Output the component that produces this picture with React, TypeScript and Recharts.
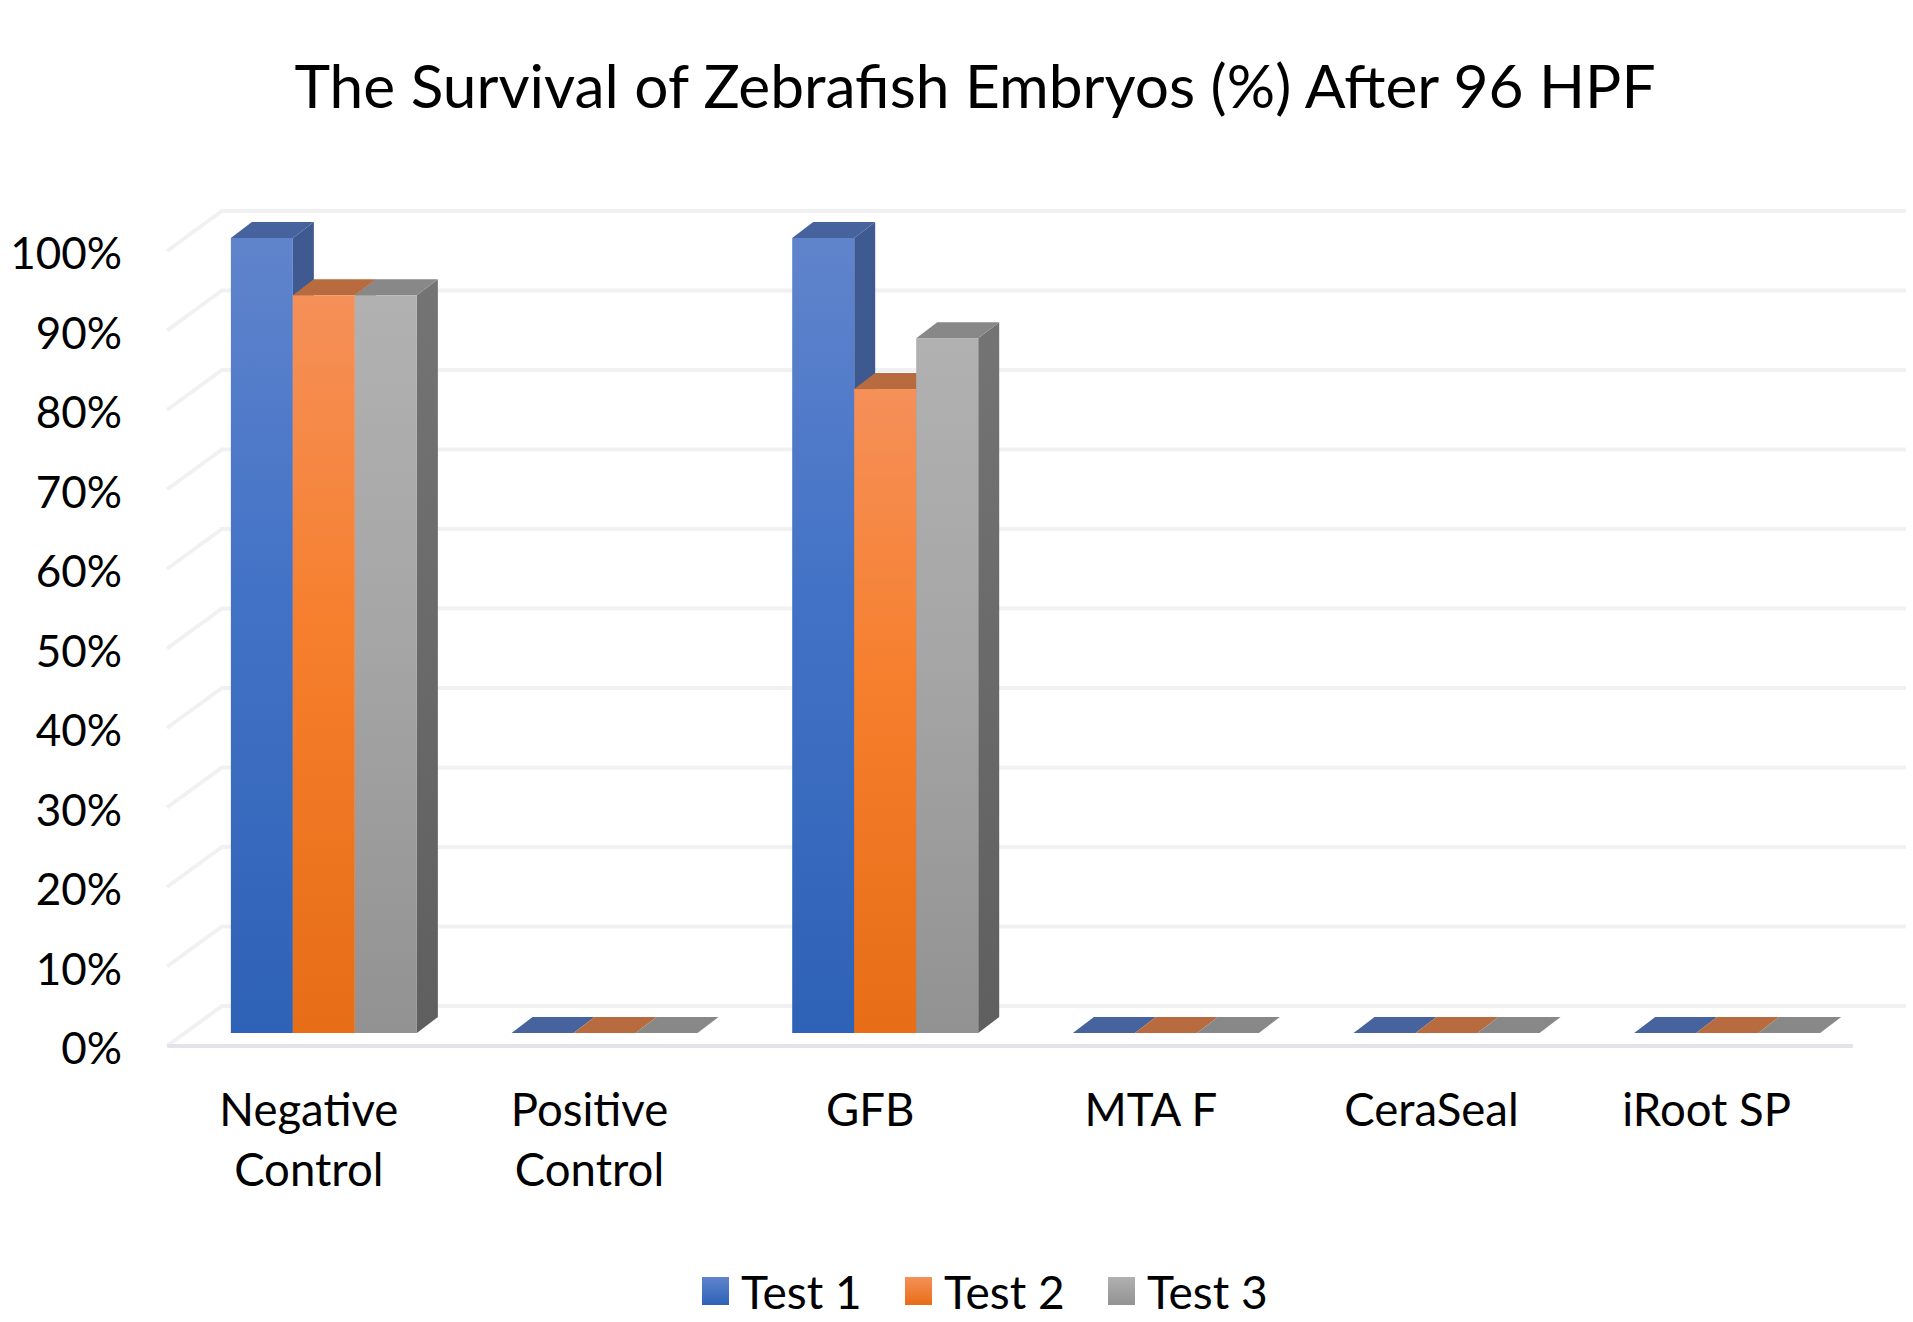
import { Bar, BarChart, CartesianGrid, Legend, XAxis, YAxis } from "recharts";

const categories = ["Negative Control", "Positive Control", "GFB", "MTA F", "CeraSeal", "iRoot SP"];
const test1 = [100, 0, 100, 0, 0, 0];
const test2 = [92.8, 0, 81, 0, 0, 0];
const test3 = [92.8, 0, 87.4, 0, 0, 0];
const seriesNames = ["Test 1", "Test 2", "Test 3"];
const yTicks = [0, 10, 20, 30, 40, 50, 60, 70, 80, 90, 100];

const data = categories.map((name, i) => ({
  name,
  t1: test1[i],
  t2: test2[i],
  t3: test3[i],
}));

const FONT = "Lato, sans-serif";
// colours per series: front top, front mid, front bottom, top face, side top, side bottom
const shades = [
  ["#6084cc", "#4272c6", "#2e62b7", "#47639d", "#3f5a90", "#34538c"],
  ["#f59059", "#f67f2d", "#e76d16", "#b86b3e", "#a85a2c", "#a0561f"],
  ["#b1b1b1", "#a6a6a6", "#929292", "#888888", "#747474", "#5f5f5f"],
];

// how far the floor/walls sit from the bar plane
const FRONT_DY = 13;
const BACK_DY = 27;
const FRONT_X = 167;
const BACK_X = 222;
const BACK_END = 1906;
const FLOOR_END = 1853;
const BASE_Y = 1033;
// bar extrusion
const DX = 21;
const DY = 16;

const box = (idx: number) => (props: any) => {
  const { x, y, width, height } = props;
  return (
    <g>
      <polygon
        points={`${x + width},${y} ${x + width + DX},${y - DY} ${x + width + DX},${y + height - DY} ${x + width},${y + height}`}
        fill={`url(#side${idx})`}
      />
      <polygon
        points={`${x},${y} ${x + DX},${y - DY} ${x + width + DX},${y - DY} ${x + width},${y}`}
        fill={shades[idx][3]}
      />
      <rect x={x} y={y} width={width} height={height} fill={`url(#front${idx})`} />
    </g>
  );
};

const wallLine = (props: any) => {
  const y = props.y1;
  return (
    <g key={props.key}>
      <polyline
        points={`${FRONT_X},${y + FRONT_DY} ${BACK_X},${y - BACK_DY} ${BACK_END},${y - BACK_DY}`}
        fill="none"
        stroke="#f1f1f3"
        strokeWidth={4}
      />
      {Math.abs(y - BASE_Y) < 1 ? (
        <line x1={FRONT_X} y1={y + FRONT_DY} x2={FLOOR_END} y2={y + FRONT_DY} stroke="#e3e4e9" strokeWidth={4} />
      ) : null}
    </g>
  );
};

const YTick = ({ x, y, payload }: any) => (
  <text x={x + 1} y={y + 31} textAnchor="end" fontFamily={FONT} fontSize={44} fill="#000">
    {payload.value}%
  </text>
);

const XTick = ({ x, payload }: any) => {
  const parts = payload.value.endsWith("Control") ? payload.value.split(" ") : [payload.value];
  // iRoot SP sits a little further left in the original
  const cx = x + (payload.value === "iRoot SP" ? -21 : -15.5);
  return (
    <text x={cx} y={1126} textAnchor="middle" fontFamily={FONT} fontSize={45.5} fill="#000">
      {parts.map((p: string, i: number) => (
        <tspan key={p} x={cx} dy={i === 0 ? 0 : 60}>
          {p}
        </tspan>
      ))}
    </text>
  );
};

const LegendRow = () => (
  <div style={{ height: 50, position: "relative", fontFamily: FONT, fontSize: 46, color: "#000" }}>
    {seriesNames.map((n, i) => (
      <div key={n} style={{ position: "absolute", left: i * 203, top: 0, display: "flex", alignItems: "center", height: 50, whiteSpace: "nowrap" }}>
        <span
          style={{
            width: 27,
            height: 28,
            marginRight: 12,
            background: `linear-gradient(${shades[i][0]}, ${shades[i][2]})`,
          }}
        />
        {n}
      </div>
    ))}
  </div>
);

export default function App() {
  return (
    <div style={{ position: "absolute", left: 0, top: 0, width: 1913, height: 1322, background: "#fff" }}>
      <BarChart
        width={1913}
        height={1322}
        data={data}
        margin={{ top: 238, right: 45, bottom: 0, left: 0 }}
        barCategoryGap="16.7%"
        barGap={0}
      >
        <defs>
          {shades.map((s, i) => (
            <g key={i}>
              <linearGradient id={`front${i}`} x1="0" y1="0" x2="0" y2="1">
                <stop offset="0%" stopColor={s[0]} />
                <stop offset="45%" stopColor={s[1]} />
                <stop offset="100%" stopColor={s[2]} />
              </linearGradient>
              <linearGradient id={`side${i}`} x1="0" y1="0" x2="0" y2="1">
                <stop offset="0%" stopColor={s[4]} />
                <stop offset="100%" stopColor={s[5]} />
              </linearGradient>
            </g>
          ))}
        </defs>
        <text x={975} y={108} textAnchor="middle" fontFamily={FONT} fontSize={60.4} fill="#000">
          The Survival of Zebrafish Embryos (%) After 96 HPF
        </text>
        <CartesianGrid vertical={false} horizontal={wallLine} />
        <XAxis dataKey="name" height={239} axisLine={false} tickLine={false} interval={0} tick={XTick} />
        <YAxis
          width={184}
          domain={[0, 100]}
          ticks={yTicks}
          axisLine={false}
          tickLine={false}
          tickSize={0}
          tickMargin={63}
          tick={YTick}
        />
        <Bar dataKey="t1" name={seriesNames[0]} shape={box(0)} isAnimationActive={false} />
        <Bar dataKey="t2" name={seriesNames[1]} shape={box(1)} isAnimationActive={false} />
        <Bar dataKey="t3" name={seriesNames[2]} shape={box(2)} isAnimationActive={false} />
        <Legend
          content={LegendRow}
          wrapperStyle={{ left: 702, top: 1266, width: 600, height: 50 }}
        />
      </BarChart>
    </div>
  );
}
